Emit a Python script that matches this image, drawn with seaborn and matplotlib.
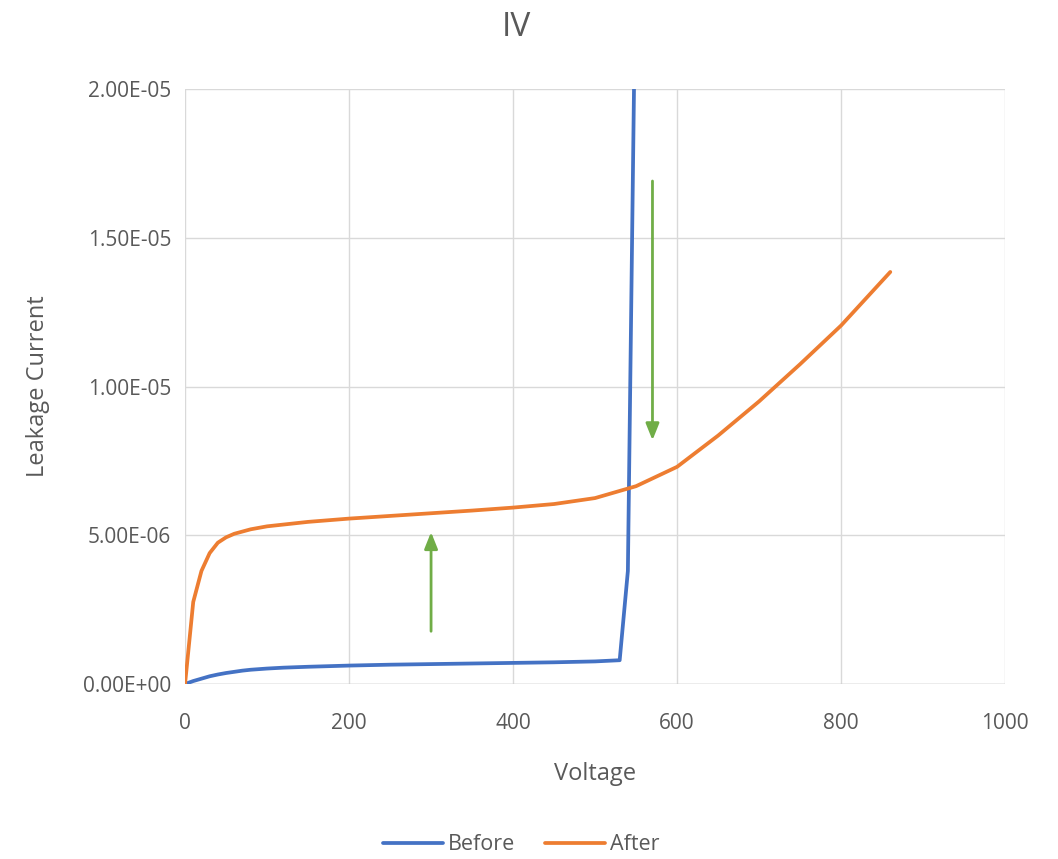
import pandas as pd
import matplotlib.pyplot as plt
import seaborn as sns

# Data
before_v = [0, 10, 20, 30, 40, 50, 60, 70, 80, 100, 120, 150, 200, 250, 300, 350, 400, 450, 500, 530, 540, 550]
before_i = [0, 0.10, 0.18, 0.26, 0.32, 0.37, 0.41, 0.45, 0.48, 0.52, 0.55, 0.58, 0.62, 0.65, 0.67, 0.69,
            0.71, 0.73, 0.76, 0.80, 3.8, 25.5]
after_v = [0, 10, 20, 30, 40, 50, 60, 80, 100, 150, 200, 250, 300, 350, 400, 450, 500, 550, 600, 650, 700, 750, 800, 860]
after_i = [0, 2.76, 3.80, 4.40, 4.75, 4.93, 5.05, 5.20, 5.30, 5.45, 5.56, 5.65, 5.74, 5.83, 5.93, 6.05, 6.25,
           6.65, 7.30, 8.35, 9.50, 10.75, 12.05, 13.85]

df = pd.concat([
    pd.DataFrame({"Voltage": before_v, "Current": [v * 1e-6 for v in before_i], "Series": "Before"}),
    pd.DataFrame({"Voltage": after_v, "Current": [v * 1e-6 for v in after_i], "Series": "After"}),
])

sns.set_style("white")
plt.rcParams["font.family"] = ["Open Sans", "DejaVu Sans"]

gray = "#595959"
fig = plt.figure(figsize=(10.58, 8.59), dpi=100)
ax = fig.add_axes([0.1749, 0.2037, 0.7751, 0.6927])

sns.lineplot(data=df, x="Voltage", y="Current", hue="Series", sort=False,
             palette={"Before": "#4472C4", "After": "#ED7D31"}, linewidth=2.7, ax=ax)

ax.set_xlim(0, 1000)
ax.set_ylim(0, 2e-5)
ax.set_xticks(range(0, 1001, 200))
ax.set_yticks([0, 5e-6, 1e-5, 1.5e-5, 2e-5])
ax.set_yticklabels(["0.00E+00", "5.00E-06", "1.00E-05", "1.50E-05", "2.00E-05"])
ax.grid(True, color="#D9D9D9", linewidth=1)
for s in ax.spines.values():
    s.set_visible(False)
ax.axhline(0, color="#BFBFBF", linewidth=1, zorder=1)
ax.tick_params(axis="both", length=0, labelsize=15, labelcolor=gray)
ax.tick_params(axis="x", pad=21)
ax.tick_params(axis="y", pad=10)

# green arrows
green = "#70AD47"
ax.annotate("", xy=(300, 5.2e-6), xytext=(300, 1.68e-6),
            arrowprops=dict(arrowstyle="-|>,head_width=0.4,head_length=1.0", color=green, lw=2))
ax.annotate("", xy=(570, 8.1e-6), xytext=(570, 17.0e-6),
            arrowprops=dict(arrowstyle="-|>,head_width=0.4,head_length=1.0", color=green, lw=2))

fig.text(516 / 1058, 1 - 28 / 859, "IV", fontsize=24, color=gray, ha="center", va="center")
ax.set_xlabel("Voltage", fontsize=17, color=gray, labelpad=20)
ax.set_ylabel("Leakage Current", fontsize=17, color=gray, labelpad=24)

ax.get_legend().remove()
handles, labels = ax.get_legend_handles_labels()
fig.legend(handles, labels, loc="center", bbox_to_anchor=(521 / 1058, 1 - 845 / 859), ncol=2, frameon=False,
           fontsize=15.5, labelcolor=gray, handlelength=2.8, handletextpad=0.2, columnspacing=1.4)

plt.savefig("out.png", dpi=100)
